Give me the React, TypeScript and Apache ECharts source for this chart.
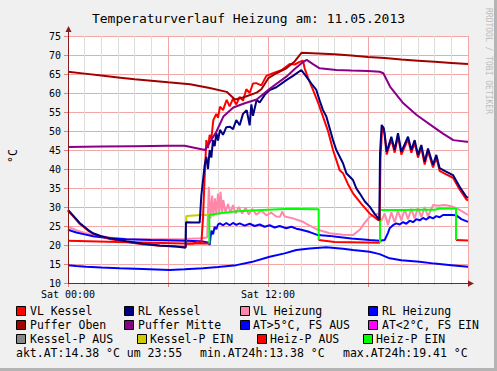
import React, { useEffect, useRef } from "react";
import * as echarts from "echarts";

type P = [number, number] | null;

const TITLE = "Temperaturverlauf Heizung am: 11.05.2013";
const Y_MIN = 10;
const Y_MAX = 75;
const Y_STEP = 5;
const X_LABELS: Record<number, string> = { 0: "Sat 00:00", 12: "Sat 12:00" };

const atAussen: P[] = [
  [0, 14.7], [0.5, 14.5], [1.1, 14.3], [2, 14.1], [3.1, 13.9], [4.5, 13.7], [6.1, 13.4], [7, 13.6],
  [8.1, 13.9], [9, 14.2], [10.1, 14.7], [11, 15.5], [12.1, 16.9], [13, 17.8], [13.7, 18.7], [14.5, 19.1],
  [15.5, 19.4], [16.5, 19.0], [17.1, 18.7], [18.1, 18.2], [18.7, 17.6], [19.3, 16.5], [20, 16.0],
  [21.1, 15.6], [22, 15.1], [23, 14.7], [24, 14.3],
];

const vlHeizung: P[] = [
  [0, 24.8], [0.5, 23.9], [1, 23.2], [1.5, 22.6], [2.5, 22.0], [3.5, 21.6], [5, 21.5], [7, 21.6], [8.0, 21.8],
  [8.35, 22], [8.45, 35.3], [8.55, 27], [8.65, 33], [8.72, 27.5], [8.82, 32.3], [8.9, 28], [9.0, 33.5],
  [9.08, 28], [9.15, 34], [9.25, 28.5], [9.32, 31.8], [9.45, 28.5], [9.6, 30.8], [9.75, 28.5], [9.9, 30.5],
  [10.05, 28.3], [10.25, 30], [10.45, 28.3], [10.65, 29.8], [10.85, 28], [11.05, 29.5], [11.3, 28],
  [11.6, 29], [11.9, 27.8], [12.2, 28.5], [12.5, 27.5], [12.72, 27.4], [12.85, 28.8], [13.0, 27.5],
  [13.5, 27], [14.1, 26.1], [14.5, 25.1], [15.0, 24.0], [15.7, 23.1], [16.5, 22.7], [17.1, 22.6],
  [17.5, 24], [17.8, 25.8], [18.1, 27.4], [18.6, 28.3], [18.8, 26.3], [19.0, 28.3], [19.2, 25.3],
  [19.4, 28.6], [19.6, 26], [19.8, 29], [20.0, 26.5], [20.2, 29.3], [20.4, 26.8], [20.6, 29.5],
  [20.8, 27], [21.0, 29.8], [21.2, 27.3], [21.4, 30], [21.6, 27.5], [21.9, 30.5], [22.2, 30.3],
  [22.6, 30.5], [23.0, 30.2], [23.3, 29.7], [23.6, 29], [24, 27.9],
];

const rlHeizung: P[] = [
  [0, 24.0], [0.5, 23.3], [1, 22.8], [1.5, 22.3], [2.5, 21.8], [3.5, 21.5], [5, 21.3], [7, 21.1], [8, 21.0],
  [8.45, 20.6], [8.5, 20.0], [8.6, 23.8], [8.7, 22.8], [8.8, 24.8], [8.9, 24.2], [9.0, 25.4], [9.12, 25.7],
  [9.3, 25.2], [9.5, 25.8], [9.7, 25.2], [9.9, 25.8], [10.1, 25.3], [10.3, 25.7], [10.6, 25.1], [10.9, 25.6],
  [11.2, 25.0], [11.5, 25.4], [11.8, 24.8], [12.1, 25.2], [12.4, 24.6], [12.7, 25.0], [13.1, 24.4],
  [13.4, 24.8], [13.7, 24.3], [14.0, 24.0], [14.5, 23.4], [15.0, 22.6], [15.7, 22.4], [16.1, 22.2],
  [17, 21.7], [18.1, 21.3], [18.7, 21.1], [19.0, 21.3], [19.2, 23.2], [19.3, 24.4], [19.5, 25.2],
  [19.7, 25.7], [19.9, 25.4], [20.1, 26.0], [20.3, 25.6], [20.5, 26.4], [20.7, 26.0], [20.9, 26.8],
  [21.1, 26.5], [21.3, 27.1], [21.5, 26.7], [21.7, 27.4], [21.9, 27.0], [22.1, 27.6], [22.3, 27.3],
  [22.5, 27.9], [23.0, 27.9], [23.3, 27.8], [23.6, 26.8], [24, 26.1],
];

const heizPAus: P[] = [
  [0, 21.1], [3, 20.8], [7, 20.4], [8.48, 20.4], null,
  [15.04, 21.3], [16, 20.8], [18.72, 20.6], null,
  [23.28, 21.3], [24, 21.2],
];

const kesselPAus: P[] = [[7.08, 19.5], [7.08, 24.2]];

const kesselPEin: P[] = [[7.08, 24.2], [7.1, 27.6], [8.0, 27.9], [8.48, 27.9]];

const heizPEin: P[] = [
  [8.48, 20.4], [8.48, 27.9], [9, 28.3], [10, 28.8], [11, 29.1], [12, 29.3], [13, 29.5], [14, 29.5],
  [15.04, 29.4], [15.04, 21.3], null,
  [18.72, 20.6], [18.72, 29.2], [20, 29.2], [21, 29.3], [22, 29.3], [22.3, 29.6], [23.28, 29.6], [23.28, 21.3],
];

const vlKessel: P[] = [
  [0, 29.0], [0.3, 27.6], [0.7, 25.6], [1.2, 23.8], [1.5, 23.0], [2, 22.2], [2.5, 21.6], [3.5, 20.8],
  [4.5, 20.2], [5.5, 19.8], [6.5, 19.6], [7.05, 19.5], [7.1, 20.3], [7.5, 20.4], [7.8, 20.9], [8.0, 20.4],
  [8.1, 27], [8.2, 38], [8.3, 47.6], [8.4, 45.5], [8.5, 49], [8.6, 48], [8.72, 52.9], [8.9, 54.5],
  [9.0, 53.5], [9.12, 56.4], [9.3, 55.5], [9.52, 58.2], [9.7, 56.5], [9.9, 58.5], [10.1, 57], [10.3, 59],
  [10.5, 58], [10.7, 61], [10.9, 60], [11.1, 62.5], [11.3, 62.6], [11.6, 62], [11.9, 64.5], [12.3, 65.2],
  [12.8, 66], [13.3, 67.6], [13.6, 67.5], [13.9, 68.2], [14.1, 68.5], [14.2, 66.5], [14.4, 64],
  [14.7, 60.8], [15.0, 57.5], [15.3, 53.8], [15.6, 50], [15.9, 45], [16.3, 39.7], [16.5, 38.9],
  [16.8, 36], [17.1, 33.6], [17.6, 30.8], [18.1, 28.3], [18.6, 26.6], [18.7, 26.5], [18.75, 43],
  [18.85, 50.8], [19.0, 49.5], [19.12, 43.8], [19.4, 47.8], [19.6, 44.3], [19.8, 48.7], [20.0, 43.8],
  [20.4, 47.8], [20.6, 44.3], [20.8, 46.9], [21.0, 43.0], [21.2, 45.6], [21.4, 41.2], [21.6, 44.7],
  [21.9, 40.4], [22.1, 43.0], [22.3, 39.5], [22.6, 38.8], [23.1, 37.7], [23.5, 34.6], [23.9, 32.0], [24, 31.7],
];

const rlKessel: P[] = [
  [0, 29.2], [0.3, 27.8], [0.7, 25.8], [1.2, 24.0], [1.5, 23.1], [2, 22.3], [2.5, 21.8], [3.5, 21.0],
  [4.5, 20.3], [5.5, 19.9], [6.5, 19.6], [7.05, 19.3], [7.08, 26.0], [7.5, 25.9], [7.9, 25.9], [8.0, 33],
  [8.1, 37], [8.2, 41], [8.3, 43.2], [8.4, 40], [8.5, 45], [8.6, 43], [8.7, 47.6], [8.8, 46], [8.9, 49.5],
  [9.0, 47.5], [9.12, 50.3], [9.3, 49], [9.5, 51], [9.72, 51.1], [9.9, 50.5], [10.1, 52.9], [10.3, 51.5],
  [10.5, 54.5], [10.72, 55.5], [10.9, 51.5], [11.0, 57], [11.1, 54], [11.32, 58.2], [11.5, 57.5],
  [11.8, 59.5], [12.1, 60.8], [12.5, 61.5], [13.1, 63.4], [13.5, 64.5], [14.0, 66.05], [14.3, 64.3],
  [14.6, 62.5], [14.9, 60.8], [15.1, 58], [15.3, 55.5], [15.5, 53.8], [15.9, 47.6], [16.1, 45],
  [16.5, 41.5], [16.7, 38.9], [17.1, 37.1], [17.3, 34.9], [17.5, 33.6], [17.8, 31.5], [18.1, 30.1],
  [18.4, 28.2], [18.68, 26.6], [18.72, 44], [18.82, 51.6], [18.95, 50.7], [19.12, 44.5], [19.4, 48.5],
  [19.6, 45], [19.8, 49.4], [20.0, 44.5], [20.4, 48.5], [20.6, 45], [20.8, 47.6], [21.0, 43.7],
  [21.2, 46.3], [21.4, 41.9], [21.6, 45.4], [21.9, 41.1], [22.1, 43.7], [22.3, 40.2], [22.6, 39.5],
  [23.1, 38.4], [23.5, 35.3], [23.9, 32.7], [24, 32.4],
];

const pufferMitte: P[] = [
  [0, 45.8], [2, 45.9], [4, 46.0], [6, 46.1], [7, 46.1], [8.22, 45.0], [8.5, 47], [8.9, 49.8], [9.32, 53.8],
  [9.92, 56.2], [10.6, 57.3], [11.32, 58.3], [12.12, 61.2], [13.1, 64.3], [13.6, 66.3], [14.12, 68.2],
  [14.32, 68.7], [14.7, 67.6], [15.1, 66.5], [16.1, 66.05], [17, 65.9], [18, 65.8], [18.7, 65.6],
  [18.92, 65.2], [19.32, 61.7], [20.12, 57.3], [20.92, 54.2], [21.92, 51.1], [22.5, 49.3], [23.12, 47.6],
  [23.92, 47.2], [24, 47.2],
];

const pufferOben: P[] = [
  [0, 65.6], [1, 65.1], [2, 64.6], [3, 64.1], [4, 63.6], [5, 63.2], [6, 62.8], [7.32, 62.3], [8.5, 61.3],
  [9.52, 60.3], [10.02, 58.3], [10.5, 58.8], [11.32, 60.1], [11.6, 61], [12.02, 63.9], [12.5, 65.2],
  [13.1, 66.5], [13.6, 68.3], [14.02, 70.6], [15, 70.4], [16, 70.2], [17, 69.9], [18, 69.5], [19, 69.2],
  [20, 68.8], [21, 68.5], [22, 68.2], [23, 67.9], [24, 67.6],
];

const LEGEND_NAMES = [
  "VL Kessel", "RL Kessel", "VL Heizung", "RL Heizung",
  "Puffer Oben", "Puffer Mitte", "AT>5°C, FS AUS", "AT<2°C, FS EIN",
  "Kessel-P AUS", "Kessel-P EIN", "Heiz-P AUS", "Heiz-P EIN",
];
const LEGEND_COLORS = [
  "#ff0000", "#000080", "#ff88aa", "#0000ff",
  "#a00000", "#880088", "#0000ff", "#ff00ff",
  "#888888", "#cccc00", "#ff0000", "#00ff00",
];
const STATS = ["akt.AT:14.38 °C um 23:55", "min.AT24h:13.38 °C", "max.AT24h:19.41 °C"];

const FONT = '"DejaVu Sans Mono", monospace';

function mk(name: string, data: P[], color: string) {
  return {
    type: "line",
    name,
    data: data.map((p) => (p ? p : ["-", "-"])),
    symbol: "none",
    showSymbol: false,
    connectNulls: false,
    silent: true,
    lineStyle: { width: 2, color },
    itemStyle: { color },
  };
}

export default function App() {
  const ref = useRef<HTMLDivElement>(null);
  useEffect(() => {
    document.body.style.margin = "0";
    if (!ref.current) return;
    const chart = echarts.init(ref.current, undefined, { renderer: "svg" });

    const legendColX = [
      [16, 124, 240, 368],
      [16, 124, 240, 368],
      [16, 137, 257, 363],
    ];
    const legendTextX = [
      [30, 138, 253, 382],
      [30, 138, 253, 382],
      [30, 150, 270, 376],
    ];
    const rowsY = [311, 325, 339];
    const graphics: any[] = [];
    LEGEND_NAMES.forEach((n, i) => {
      const r = Math.floor(i / 4);
      const c = i % 4;
      graphics.push({
        type: "rect",
        shape: { x: legendColX[r][c] + 0.5, y: rowsY[r] - 4.5, width: 9, height: 9 },
        style: { fill: LEGEND_COLORS[i], stroke: "#000", lineWidth: 1 },
      });
      graphics.push({
        type: "text",
        x: legendTextX[r][c],
        y: rowsY[r],
        style: { text: n, font: `11.5px ${FONT}`, fill: "#000", textAlign: "left", verticalAlign: "middle" },
      });
    });
    const statX = [16, 200, 343];
    STATS.forEach((s, i) => {
      graphics.push({
        type: "text",
        x: statX[i],
        y: 353,
        style: { text: s, font: `11.5px ${FONT}`, fill: "#000", textAlign: "left", verticalAlign: "middle" },
      });
    });
    graphics.push({
      type: "text",
      x: 13,
      y: 156,
      rotation: Math.PI / 2,
      style: { text: "°C", font: `11.5px ${FONT}`, fill: "#000", textAlign: "center", verticalAlign: "middle" },
    });
    graphics.push({
      type: "text",
      x: 488,
      y: 61,
      rotation: -Math.PI / 2,
      style: { text: "RRDTOOL / TOBI OETIKER", font: `8px ${FONT}`, fill: "#bdbdbd", textAlign: "center", verticalAlign: "middle" },
    });
    const axC = "#8c1c1c";
    graphics.push({ type: "line", z: 100, shape: { x1: 68, y1: 283.5, x2: 469, y2: 283.5 }, style: { stroke: axC, lineWidth: 1 } });
    graphics.push({ type: "polygon", z: 100, shape: { points: [[468, 280.5], [474, 283.5], [468, 286.5]] }, style: { fill: axC } });
    graphics.push({ type: "line", z: 100, shape: { x1: 68.5, y1: 283, x2: 68.5, y2: 31 }, style: { stroke: axC, lineWidth: 1 } });
    graphics.push({ type: "polygon", z: 100, shape: { points: [[65.5, 32], [68.5, 26], [71.5, 32]] }, style: { fill: axC } });
    graphics.push({ type: "rect", shape: { x: 494, y: 0, width: 3, height: 371 }, style: { fill: "#b4b4b4" } });
    graphics.push({ type: "rect", shape: { x: 0, y: 368, width: 497, height: 3 }, style: { fill: "#b4b4b4" } });

    chart.setOption({
      animation: false,
      backgroundColor: "#f0f0f0",
      title: {
        text: TITLE,
        left: "center",
        top: 7,
        textStyle: { fontFamily: FONT, fontSize: 13, fontWeight: "normal", color: "#000" },
      },
      grid: { left: 68, top: 36, width: 400, height: 247, show: true, backgroundColor: "#ffffff", borderWidth: 0 },
      xAxis: {
        type: "value",
        min: 0,
        max: 24,
        interval: 6,
        axisLine: { show: false },
        axisTick: { show: true, length: 4, lineStyle: { color: "#e08080" } },
        minorTick: { show: true, splitNumber: 6, length: 2, lineStyle: { color: "#c8c8c8" } },
        minorSplitLine: { show: true, lineStyle: { color: "#dedede", width: 1 } },
        splitLine: { show: true, lineStyle: { color: "#f4a6a6", width: 1 } },
        axisLabel: {
          margin: 6,
          fontFamily: FONT,
          fontSize: 10,
          color: "#000",
          formatter: (v: number) => X_LABELS[v] ?? "",
        },
      },
      yAxis: {
        type: "value",
        min: Y_MIN,
        max: Y_MAX,
        interval: Y_STEP,
        axisLine: { show: false },
        axisTick: { show: true, length: 4, lineStyle: { color: "#e08080" } },
        splitLine: { show: true, lineStyle: { color: "#f4a6a6", width: 1 } },
        axisLabel: { margin: 7, fontFamily: FONT, fontSize: 10, color: "#000" },
      },
      graphic: graphics,
      series: [
        mk("AT>5°C, FS AUS", atAussen, "#0000ff"),
        mk("VL Heizung", vlHeizung, "#ff88aa"),
        mk("RL Heizung", rlHeizung, "#0000ff"),
        mk("Heiz-P AUS", heizPAus, "#ff0000"),
        mk("Kessel-P AUS", kesselPAus, "#888888"),
        mk("Kessel-P EIN", kesselPEin, "#cccc00"),
        mk("Heiz-P EIN", heizPEin, "#00ff00"),
        mk("VL Kessel", vlKessel, "#ff0000"),
        mk("RL Kessel", rlKessel, "#000080"),
        mk("Puffer Mitte", pufferMitte, "#880088"),
        mk("Puffer Oben", pufferOben, "#a00000"),
      ],
    });
    return () => chart.dispose();
  }, []);
  return <div ref={ref} style={{ width: 497, height: 371 }} />;
}
